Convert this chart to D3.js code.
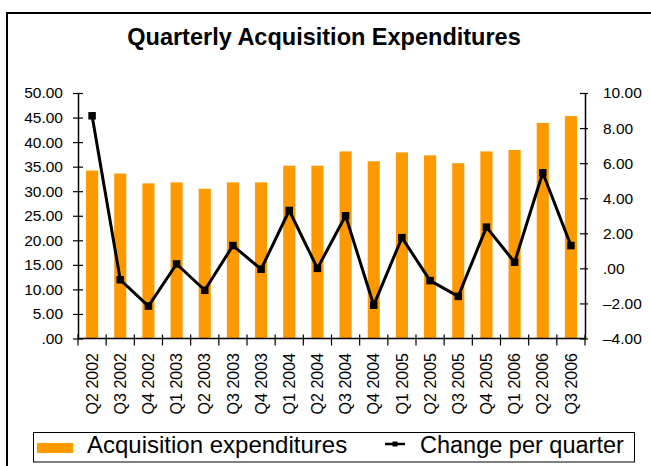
<!DOCTYPE html>
<html>
<head>
<meta charset="utf-8">
<script src="https://cdn.jsdelivr.net/npm/d3@7"></script>
<style>
  html, body { margin: 0; padding: 0; background: #fff; }
  svg { display: block; }
  text { font-family: "Liberation Sans", Arial, Helvetica, sans-serif; fill: #000; }
</style>
</head>
<body>
<svg id="chart" width="651" height="466"></svg>
<script>
const title = "Quarterly Acquisition Expenditures";
const categories = ["Q2 2002","Q3 2002","Q4 2002","Q1 2003","Q2 2003","Q3 2003","Q4 2003",
  "Q1 2004","Q2 2004","Q3 2004","Q4 2004","Q1 2005","Q2 2005","Q3 2005","Q4 2005",
  "Q1 2006","Q2 2006","Q3 2006"];
const expenditures = [34.2, 33.6, 31.6, 31.8, 30.5, 31.8, 31.8, 35.2, 35.2, 38.1, 36.1,
  37.9, 37.3, 35.7, 38.1, 38.4, 43.9, 45.3];
const changes = [8.7, -0.65, -2.15, 0.25, -1.25, 1.3, -0.05, 3.3, 0.0, 3.0, -2.1,
  1.75, -0.7, -1.6, 2.35, 0.35, 5.45, 1.3];
const leftTicks = [0, 5, 10, 15, 20, 25, 30, 35, 40, 45, 50];
const rightTicks = [-4, -2, 0, 2, 4, 6, 8, 10];
const legendLabels = ["Acquisition expenditures", "Change per quarter"];

const barColor = "#FF9900";
const svg = d3.select("#chart");

const pLeft = 78, pRight = 585, pTop = 93, pBottom = 338.5;

const x = d3.scaleBand().domain(categories).range([pLeft, pRight])
  .paddingInner(0.57).paddingOuter(0.285);
const xStep = x.step();
const yL = d3.scaleLinear().domain([0, 50]).range([pBottom, pTop]);
const yR = d3.scaleLinear().domain([-4, 10]).range([pBottom, pTop]);

function fmt(v) {
  let s = d3.format(".2f")(Math.abs(v));
  if (s.startsWith("0.")) s = s.slice(1);
  return (v < 0 ? "\u2013" : "") + s;
}

// outer frame
svg.append("rect").attr("x", 7).attr("y", 13).attr("width", 700).attr("height", 500)
  .attr("fill", "none").attr("stroke", "#000").attr("stroke-width", 2);

// title
svg.append("text").attr("x", 324).attr("y", 45).attr("text-anchor", "middle")
  .style("font-size", "23.5px").style("font-weight", "bold").text(title);

// bars
svg.append("g").selectAll("rect").data(expenditures).join("rect")
  .attr("x", (d, i) => x(categories[i]))
  .attr("width", x.bandwidth())
  .attr("y", d => yL(d))
  .attr("height", d => yL(0) - yL(d))
  .attr("fill", barColor);

// left axis
const axL = svg.append("g").attr("transform", `translate(${pLeft},0)`)
  .call(d3.axisLeft(yL).tickValues(leftTicks).tickFormat(fmt).tickSizeInner(5).tickSizeOuter(0).tickPadding(10));
axL.selectAll(".tick line").attr("x2", 5).attr("x1", -5).attr("stroke-width", 1.2);
axL.select(".domain").attr("stroke", "#000").attr("stroke-width", 1.5);
axL.selectAll("text").style("font-size", "15.5px").attr("x", -15);

// right axis
const axR = svg.append("g").attr("transform", `translate(${pRight},0)`)
  .call(d3.axisRight(yR).tickValues(rightTicks).tickFormat(fmt).tickSizeInner(4).tickSizeOuter(0).tickPadding(14));
axR.selectAll(".tick line").attr("x1", -5).attr("x2", 3).attr("stroke-width", 1.2);
axR.select(".domain").attr("stroke", "#000").attr("stroke-width", 1.5);
axR.selectAll("text").style("font-size", "15.5px").attr("x", 18);

// x axis
const boundaries = d3.range(categories.length + 1).map(i => pLeft + i * xStep);
const axX = svg.append("g");
axX.append("line").attr("x1", pLeft).attr("x2", pRight).attr("y1", pBottom).attr("y2", pBottom)
  .attr("stroke", "#000").attr("stroke-width", 1.5);
axX.selectAll("line.tk").data(boundaries).join("line").attr("class", "tk")
  .attr("x1", d => d).attr("x2", d => d).attr("y1", pBottom - 4).attr("y2", pBottom + 7)
  .attr("stroke", "#000").attr("stroke-width", 1.2);
axX.selectAll("text").data(categories).join("text")
  .attr("transform", d => `translate(${x(d) + x.bandwidth() / 2},353) rotate(-90)`)
  .attr("text-anchor", "end").attr("dy", "0.35em")
  .style("font-size", "16px").text(d => d);

// line
const cx = i => x(categories[i]) + x.bandwidth() / 2;
const line = d3.line().x((d, i) => cx(i)).y(d => yR(d));
svg.append("path").datum(changes).attr("d", line)
  .attr("fill", "none").attr("stroke", "#000").attr("stroke-width", 3).attr("stroke-linejoin", "round");
svg.append("g").selectAll("rect").data(changes).join("rect")
  .attr("x", (d, i) => cx(i) - 3.75).attr("y", d => yR(d) - 3.75)
  .attr("width", 7.5).attr("height", 7.5).attr("fill", "#000");

// legend
const lg = svg.append("g");
lg.append("rect").attr("x", 33.5).attr("y", 432.5).attr("width", 601).attr("height", 29.5)
  .attr("fill", "#fff").attr("stroke", "#000").attr("stroke-width", 1);
lg.append("rect").attr("x", 37).attr("y", 443).attr("width", 36).attr("height", 10).attr("fill", barColor);
lg.append("text").attr("x", 87).attr("y", 453).style("font-size", "24px").text(legendLabels[0]);
lg.append("line").attr("x1", 385).attr("x2", 405).attr("y1", 444).attr("y2", 444)
  .attr("stroke", "#000").attr("stroke-width", 2.5);
lg.append("rect").attr("x", 392.5).attr("y", 441.5).attr("width", 5).attr("height", 5).attr("fill", "#000");
lg.append("text").attr("x", 420).attr("y", 453).style("font-size", "23.5px").text(legendLabels[1]);
</script>
</body>
</html>
